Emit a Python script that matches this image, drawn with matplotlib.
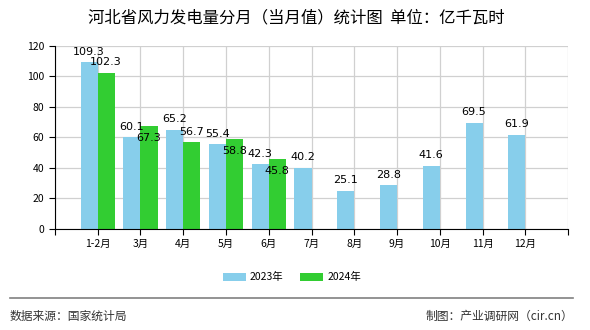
import numpy as np
import matplotlib
matplotlib.use("Agg")
import matplotlib.pyplot as plt
from matplotlib.lines import Line2D

plt.rcParams['font.family'] = ['Noto Sans CJK SC', 'DejaVu Sans']

months = ['1-2月', '3月', '4月', '5月', '6月', '7月', '8月', '9月', '10月', '11月', '12月']
v2023 = [109.3, 60.1, 65.2, 55.4, 42.3, 40.2, 25.1, 28.8, 41.6, 69.5, 61.9]
v2024 = [102.3, 67.3, 56.7, 58.8, 45.8]
# 2024 labels that sit inside the bar top in the original
below2024 = [1, 3, 4]

c23 = '#87CEEB'
c24 = '#32CD32'

fig = plt.figure(figsize=(5.9, 3.3), dpi=100)
ax = fig.add_axes([0.093, 0.306, 0.870, 0.555])

x = np.arange(len(months))
w = 0.4
ax.bar(x - w / 2, v2023, w, color=c23, label='2023年', zorder=2)
x24 = np.arange(len(v2024))
ax.bar(x24 + w / 2, v2024, w, color=c24, label='2024年', zorder=2)

for i, v in enumerate(v2023):
    ax.annotate(f'{v}', (x[i] - w / 2, v), xytext=(0, 4), textcoords='offset points',
                ha='center', va='bottom', fontsize=8, family='DejaVu Sans')
for i, v in enumerate(v2024):
    dy = -12 if i in below2024 else 4
    ax.annotate(f'{v}', (x24[i] + w / 2, v), xytext=(0, dy), textcoords='offset points',
                ha='center', va='bottom', fontsize=8, family='DejaVu Sans')

ax.set_xlim(-1, len(months))
ax.set_ylim(0, 120)
ax.set_yticks(range(0, 121, 20))
ax.set_xticks(np.arange(-1, len(months) + 1))
ax.set_xticklabels([''] + months + [''])
ax.tick_params(axis='both', labelsize=7.5, length=4, color='black')
ax.grid(True, color='#d0d0d0', linewidth=0.9, zorder=0)
ax.set_axisbelow(True)
for s in ['top', 'right']:
    ax.spines[s].set_visible(False)
ax.spines['left'].set_color('black')
ax.spines['bottom'].set_color('black')

fig.text(0.503, 0.945, '河北省风力发电量分月（当月值）统计图  单位：亿千瓦时',
         ha='center', va='center', fontsize=11.8)

fig.legend(loc='center', bbox_to_anchor=(0.495, 0.16), ncol=2, frameon=False,
           fontsize=7.5, handlelength=2.2, handleheight=0.8, columnspacing=1.6,
           handletextpad=0.4)

fig.add_artist(Line2D([0.017, 0.972], [0.097, 0.097], color='#808080', linewidth=1.2))
fig.text(0.017, 0.042, '数据来源：国家统计局', ha='left', va='center', fontsize=8.5, color='#333333')
fig.text(0.972, 0.042, '制图：产业调研网（cir.cn）', ha='right', va='center', fontsize=8.5, color='#333333')

fig.savefig('out.png', dpi=100)
